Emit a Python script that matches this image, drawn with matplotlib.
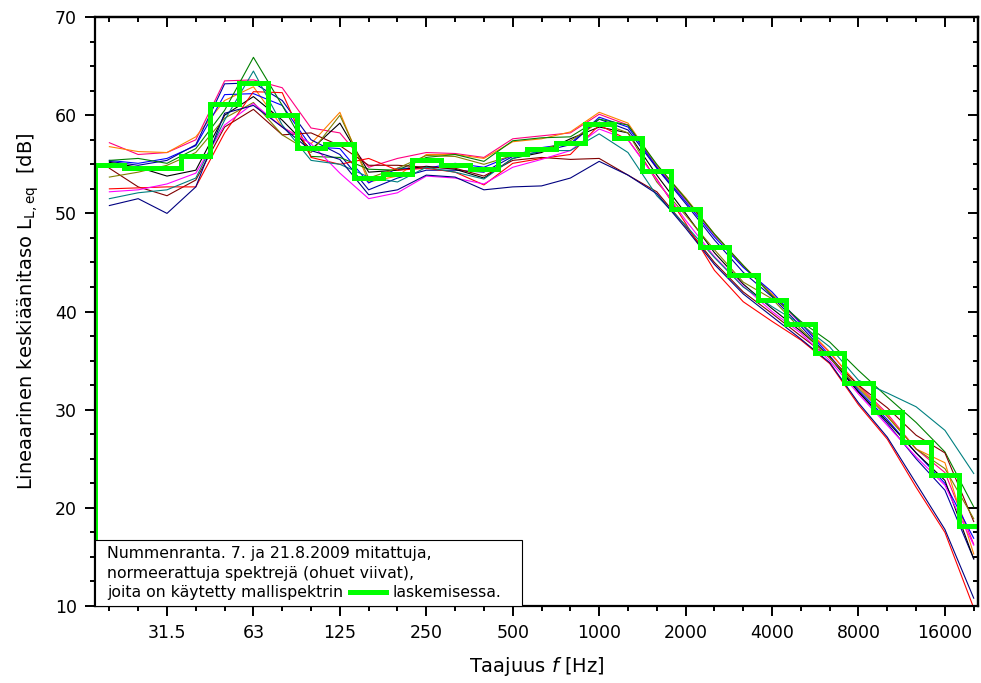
# Nummenranta: normeeratut spektrit + mallispektri
import numpy as np
import matplotlib.pyplot as plt
from matplotlib.offsetbox import AnchoredOffsetbox, TextArea, DrawingArea, HPacker, VPacker
from matplotlib.lines import Line2D

# TERSSIKAISTAT (Hz)
bands = [20, 25, 31.5, 40, 50, 63, 80, 100, 125, 160, 200, 250, 315, 400, 500, 630,
         800, 1000, 1250, 1600, 2000, 2500, 3150, 4000, 5000, 6300, 8000, 10000,
         12500, 16000, 20000]
tick_labels = ['31.5', '63', '125', '250', '500', '1000', '2000', '4000', '8000', '16000']

# MITATUT, NORMEERATUT SPEKTRIT (dB)
s_pink = [57.2, 56.0, 56.2, 57.5, 63.5, 63.6, 62.8, 58.7, 58.2, 54.7, 55.6, 56.2, 56.1, 55.7, 57.6, 57.9,
          58.2, 60.1, 59.0, 54.8, 51.4, 47.8, 44.6, 41.7, 38.8, 35.8, 32.5, 29.6, 26.0, 23.6, 16.3]
s_orange = [56.8, 56.3, 56.2, 57.8, 61.5, 62.9, 58.8, 57.1, 60.3, 53.2, 53.8, 56.0, 56.0, 55.6, 57.3, 57.6,
            58.3, 60.3, 59.2, 54.9, 51.6, 47.9, 44.7, 41.8, 38.9, 35.9, 32.4, 29.4, 26.0, 24.6, 15.3]
s_blue = [55.4, 55.1, 55.6, 56.9, 62.1, 62.2, 61.0, 56.8, 56.6, 53.1, 54.6, 54.6, 55.1, 54.7, 55.9, 56.7,
          57.1, 59.8, 58.8, 54.7, 51.2, 47.6, 44.5, 42.0, 38.8, 35.5, 32.0, 29.0, 25.6, 22.5, 16.9]
s_royal = [55.3, 54.9, 55.4, 57.0, 63.2, 63.3, 61.5, 57.5, 56.0, 52.4, 53.6, 54.4, 54.4, 54.2, 55.8, 56.3,
           57.0, 59.6, 58.5, 54.6, 51.0, 47.3, 44.0, 41.5, 38.5, 35.3, 31.8, 28.6, 25.0, 21.8, 14.8]
s_green = [55.4, 55.6, 55.1, 56.6, 60.5, 65.9, 61.0, 55.8, 55.7, 54.5, 54.4, 55.7, 56.0, 55.3, 57.4, 57.7,
           57.8, 59.6, 59.0, 55.0, 51.5, 47.9, 44.7, 41.6, 39.0, 36.9, 34.0, 31.3, 28.7, 25.7, 20.1]
s_black = [55.2, 54.7, 53.8, 54.4, 60.0, 61.9, 59.5, 56.5, 59.2, 54.2, 54.4, 54.8, 54.5, 53.6, 55.6, 56.2,
           57.6, 58.8, 58.2, 53.9, 50.0, 46.0, 42.8, 40.3, 38.0, 35.4, 31.8, 28.8, 25.6, 22.8, 14.8]
s_maroon = [54.6, 52.7, 51.8, 53.4, 58.8, 60.6, 58.0, 58.2, 56.9, 54.9, 54.9, 54.7, 54.6, 53.8, 55.4, 55.7,
            55.5, 55.6, 53.9, 52.2, 48.7, 45.0, 42.0, 39.8, 37.5, 35.3, 32.5, 30.2, 27.4, 25.6, 18.6]
s_olive = [53.7, 54.2, 54.9, 56.2, 59.7, 61.3, 58.0, 56.2, 60.0, 53.6, 54.6, 55.9, 55.8, 55.0, 55.9, 56.5,
           57.4, 59.3, 58.2, 53.2, 49.8, 46.3, 43.0, 41.3, 38.2, 35.3, 32.2, 29.3, 26.0, 24.0, 18.9]
s_red = [52.5, 52.6, 52.7, 52.7, 58.2, 62.4, 62.3, 55.7, 55.0, 55.6, 54.4, 54.6, 54.2, 52.9, 55.1, 55.6,
         56.0, 59.0, 57.5, 53.5, 49.0, 44.2, 41.0, 39.0, 37.1, 34.7, 30.5, 27.0, 22.1, 17.5, 9.8]
s_magenta = [52.2, 52.4, 53.0, 54.1, 59.0, 61.2, 58.8, 57.1, 54.1, 51.5, 52.1, 53.8, 53.6, 53.0, 54.7, 55.5,
             56.4, 58.6, 57.5, 53.4, 49.3, 45.6, 42.6, 40.0, 37.8, 35.0, 31.6, 28.4, 25.2, 22.3, 16.2]
s_teal = [51.5, 52.1, 52.4, 53.6, 59.5, 64.5, 59.0, 55.4, 55.0, 53.7, 53.2, 54.7, 54.2, 53.5, 55.6, 56.4,
          56.4, 58.1, 56.2, 51.8, 48.8, 45.5, 42.5, 40.5, 38.7, 36.4, 33.0, 31.7, 30.3, 27.9, 23.5]
s_navy = [50.8, 51.5, 50.0, 52.7, 60.2, 61.0, 58.8, 56.4, 55.5, 51.9, 52.4, 53.9, 53.7, 52.4, 52.7, 52.8,
          53.6, 55.3, 53.9, 52.0, 48.5, 44.8, 41.8, 39.5, 37.2, 34.8, 30.7, 27.2, 22.5, 17.8, 10.8]

spectra = [s_pink, s_orange, s_blue, s_royal, s_green, s_black, s_maroon, s_olive,
           s_red, s_magenta, s_teal, s_navy]
colors = ['#FF0080', '#FF8000', '#0000FF', '#0000A0', '#008000', '#000000', '#800000', '#808000',
          '#FF0000', '#FF00FF', '#008080', '#000080']

# MALLISPEKTRI (dB), paksu vihrea porrasviiva
malli = [54.9, 54.6, 54.6, 55.8, 61.1, 63.3, 60.0, 56.7, 57.1, 53.6, 54.0, 55.4, 54.9, 54.5, 56.1, 56.6,
         57.2, 59.1, 57.7, 54.3, 50.4, 46.6, 43.7, 41.2, 38.7, 35.8, 32.7, 29.8, 26.7, 23.3, 18.2]
pohja = 0  # porras alkaa kuvan alareunan alta

x = np.arange(len(bands))

fig = plt.figure(figsize=(9.81, 6.83), dpi=100)
ax = fig.add_axes([0.0968, 0.1127, 0.9002, 0.8623])

for s, c in zip(spectra, colors):
    ax.plot(x, s, color=c, lw=0.8, zorder=2)

xs = np.concatenate([[x[0] - 1], x, [x[-1] + 1]])
ys = [pohja] + malli + [malli[-1]]
ax.step(xs, ys, where='mid', color='#00FF00', lw=3.6, zorder=2.2, solid_joinstyle='miter')

ax.set_xlim(-0.5, 30.15)
ax.set_ylim(10, 70)

major_idx = [bands.index(float(t)) for t in tick_labels]
ax.set_xticks(major_idx)
ax.set_xticklabels(tick_labels)
ax.set_xticks(x, minor=True)
ax.set_yticks(np.arange(10, 71, 10))
ax.set_yticks(np.arange(10, 70.1, 2.5), minor=True)

ax.tick_params(which='both', direction='out', width=1.4, labelsize=12.5, pad=6)
ax.tick_params(which='major', length=7)
ax.tick_params(which='minor', length=3.5)
for sp in ax.spines.values():
    sp.set_linewidth(1.6)

# ylareunan ja oikean reunan tikit sisaan
secx = ax.secondary_xaxis('top')
secx.set_xticks(major_idx)
secx.set_xticklabels([])
secx.set_xticks(x, minor=True)
secx.tick_params(which='both', direction='in', width=1.4)
secx.tick_params(which='major', length=7)
secx.tick_params(which='minor', length=3.5)
secx.spines['top'].set_linewidth(1.6)

secy = ax.secondary_yaxis('right')
secy.set_yticks(np.arange(10, 71, 10))
secy.set_yticklabels([])
secy.set_yticks(np.arange(10, 70.1, 2.5), minor=True)
secy.tick_params(which='both', direction='in', width=1.4)
secy.tick_params(which='major', length=7)
secy.tick_params(which='minor', length=3.5)
secy.spines['right'].set_linewidth(1.6)

ax.set_xlabel(r'Taajuus $f$ [Hz]', fontsize=14, labelpad=9)
ax.set_ylabel(r'Lineaarinen keskiäänitaso L$_{\mathrm{L,eq}}$  [dB]', fontsize=14, labelpad=10)

# SELITELAATIKKO
tp = dict(fontsize=11.3)
t1 = TextArea('Nummenranta. 7. ja 21.8.2009 mitattuja,', textprops=tp)
t2 = TextArea('normeerattuja spektrejä (ohuet viivat),', textprops=tp)
t3a = TextArea('joita on käytetty mallispektrin', textprops=tp)
da = DrawingArea(28, 8)
da.add_artist(Line2D([1, 27], [4, 4], color='#00FF00', lw=3.6))
t3b = TextArea('laskemisessa.', textprops=tp)
row3 = HPacker(children=[t3a, da, t3b], align='center', pad=0, sep=4)
rows = VPacker(children=[t1, t2, row3], align='left', pad=0, sep=3)
box = HPacker(children=[DrawingArea(4, 1), rows, DrawingArea(10, 1)], align='center', pad=0, sep=0)
anch = AnchoredOffsetbox(loc='lower left', child=box, pad=0.45, borderpad=0, frameon=True)
anch.patch.set_boxstyle('square', pad=0)
anch.patch.set_edgecolor('black')
anch.patch.set_linewidth(0.8)
ax.add_artist(anch)

fig.savefig('out.png', dpi=100)
